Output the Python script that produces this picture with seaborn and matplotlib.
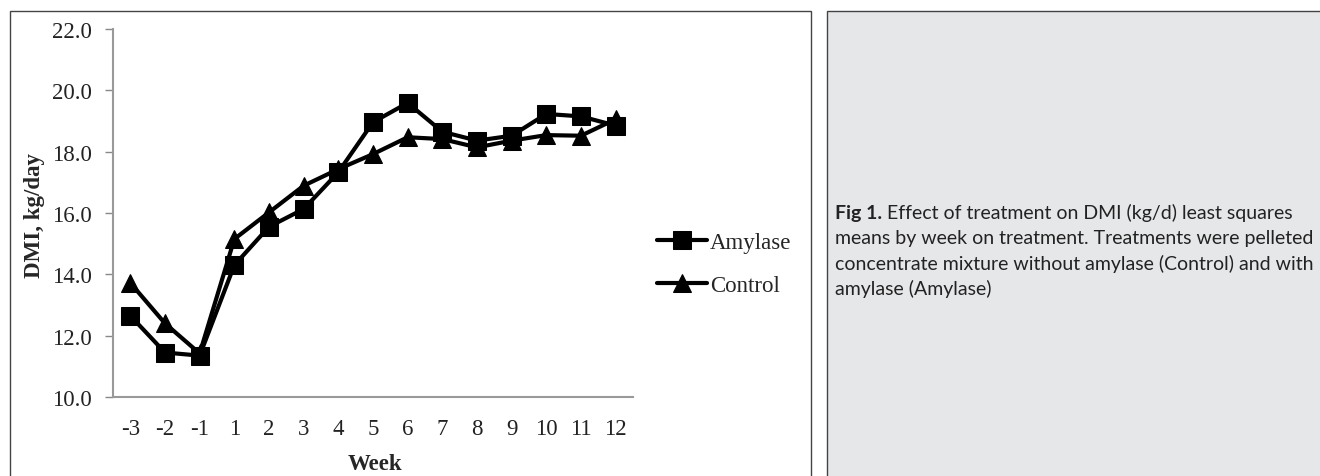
import pandas as pd
import numpy as np
import matplotlib.pyplot as plt
import seaborn as sns
from matplotlib.patches import Rectangle

sns.set_theme(style="white")
plt.rcParams['font.family'] = ['Liberation Serif', 'DejaVu Serif']

## Data
weeks = ["-3", "-2", "-1", "1", "2", "3", "4", "5", "6", "7", "8", "9", "10", "11", "12"]
amylase = [12.65, 11.45, 11.35, 14.3, 15.55, 16.13, 17.33, 18.96, 19.59,
           18.65, 18.36, 18.52, 19.23, 19.15, 18.85]
control = [13.72, 12.4, 11.42, 15.15, 16.02, 16.89, 17.43, 17.92, 18.47,
           18.41, 18.14, 18.36, 18.54, 18.52, 19.06]
yticks = [10.0, 12.0, 14.0, 16.0, 18.0, 20.0, 22.0]

pos = np.arange(len(weeks))
data = pd.concat([
    pd.DataFrame({"pos": pos, "DMI": amylase, "Treatment": "Amylase"}),
    pd.DataFrame({"pos": pos, "DMI": control, "Treatment": "Control"}),
])

W, H = 1320, 477
fig = plt.figure(figsize=(W / 100, H / 100), dpi=100)

# panel frames
fig.patches.append(Rectangle((10 / W, -0.05), (811 - 10) / W, (477 - 12) / H + 0.05,
                             transform=fig.transFigure, fill=False,
                             edgecolor="#444444", linewidth=1.0))
fig.patches.append(Rectangle((827 / W, -0.05), 0.5, (477 - 12) / H + 0.05,
                             transform=fig.transFigure, facecolor="#e6e7e9",
                             edgecolor="#444444", linewidth=1.0))

ax_l, ax_r, ax_t, ax_b = 113, 633, 30, 398
ax = fig.add_axes([ax_l / W, (H - ax_b) / H, (ax_r - ax_l) / W, (ax_b - ax_t) / H])
ax.set_facecolor("none")
sns.lineplot(data=data, x="pos", y="DMI", hue="Treatment", style="Treatment",
             markers={"Amylase": "s", "Control": "^"}, dashes=False,
             palette={"Amylase": "black", "Control": "black"},
             linewidth=3, markersize=13, markeredgecolor="black", ax=ax)

ax.set_xlim(-0.5, len(weeks) - 0.5)
ax.set_ylim(10, 22)
ax.set_xticks(pos)
ax.set_xticklabels(weeks)
ax.set_yticks(yticks)
ax.set_yticklabels([f"{v:.1f}" for v in yticks])
ax.tick_params(axis="both", labelsize=16.5, colors="#222222")
ax.tick_params(axis="y", length=6, width=1, color="#888888", direction="out", pad=9, left=True)
ax.tick_params(axis="x", length=0, pad=15)
for s in ["top", "right"]:
    ax.spines[s].set_visible(False)
for s in ["left", "bottom"]:
    ax.spines[s].set_color("#999999")
    ax.spines[s].set_linewidth(1.5)

ax.set_xlabel("Week", fontsize=16.5, fontweight="bold", va="center")
ax.set_ylabel("DMI, kg/day", fontsize=16.5, fontweight="bold", va="center")
ax.xaxis.set_label_coords((375 - ax_l) / (ax_r - ax_l), -(465 - ax_b) / (ax_b - ax_t))
ax.yaxis.set_label_coords(-(ax_l - 34) / (ax_r - ax_l), (ax_b - 215) / (ax_b - ax_t))

handles, labels = ax.get_legend_handles_labels()
ax.legend(handles, labels, loc="center left", bbox_to_anchor=(657 / W, 1 - 265 / H),
          bbox_transform=fig.transFigure, frameon=False, fontsize=16.5,
          handlelength=2.2, handletextpad=0.1, labelspacing=1.0, borderpad=0,
          borderaxespad=0)

# caption panel
cap_font = ["Lato", "Open Sans", "DejaVu Sans"]
caption = [
    ("Fig 1.", " Effect of treatment on DMI (kg/d) least squares"),
    ("", "means by week on treatment. Treatments were pelleted"),
    ("", "concentrate mixture without amylase (Control) and with"),
    ("", "amylase (Amylase)"),
]
for i, (bold, rest) in enumerate(caption):
    y = 1 - (213 + i * 25.3) / H
    if bold:
        t = fig.text(835 / W, y, bold, fontsize=14, fontweight="bold",
                     family=cap_font, va="center", color="#222222")
        fig.canvas.draw()
        bb = t.get_window_extent()
        x0 = bb.x1 / W
    else:
        x0 = 835 / W
    fig.text(x0, y, rest, fontsize=14, family=cap_font,
             va="center", color="#222222")

fig.savefig("out.png", dpi=100)
